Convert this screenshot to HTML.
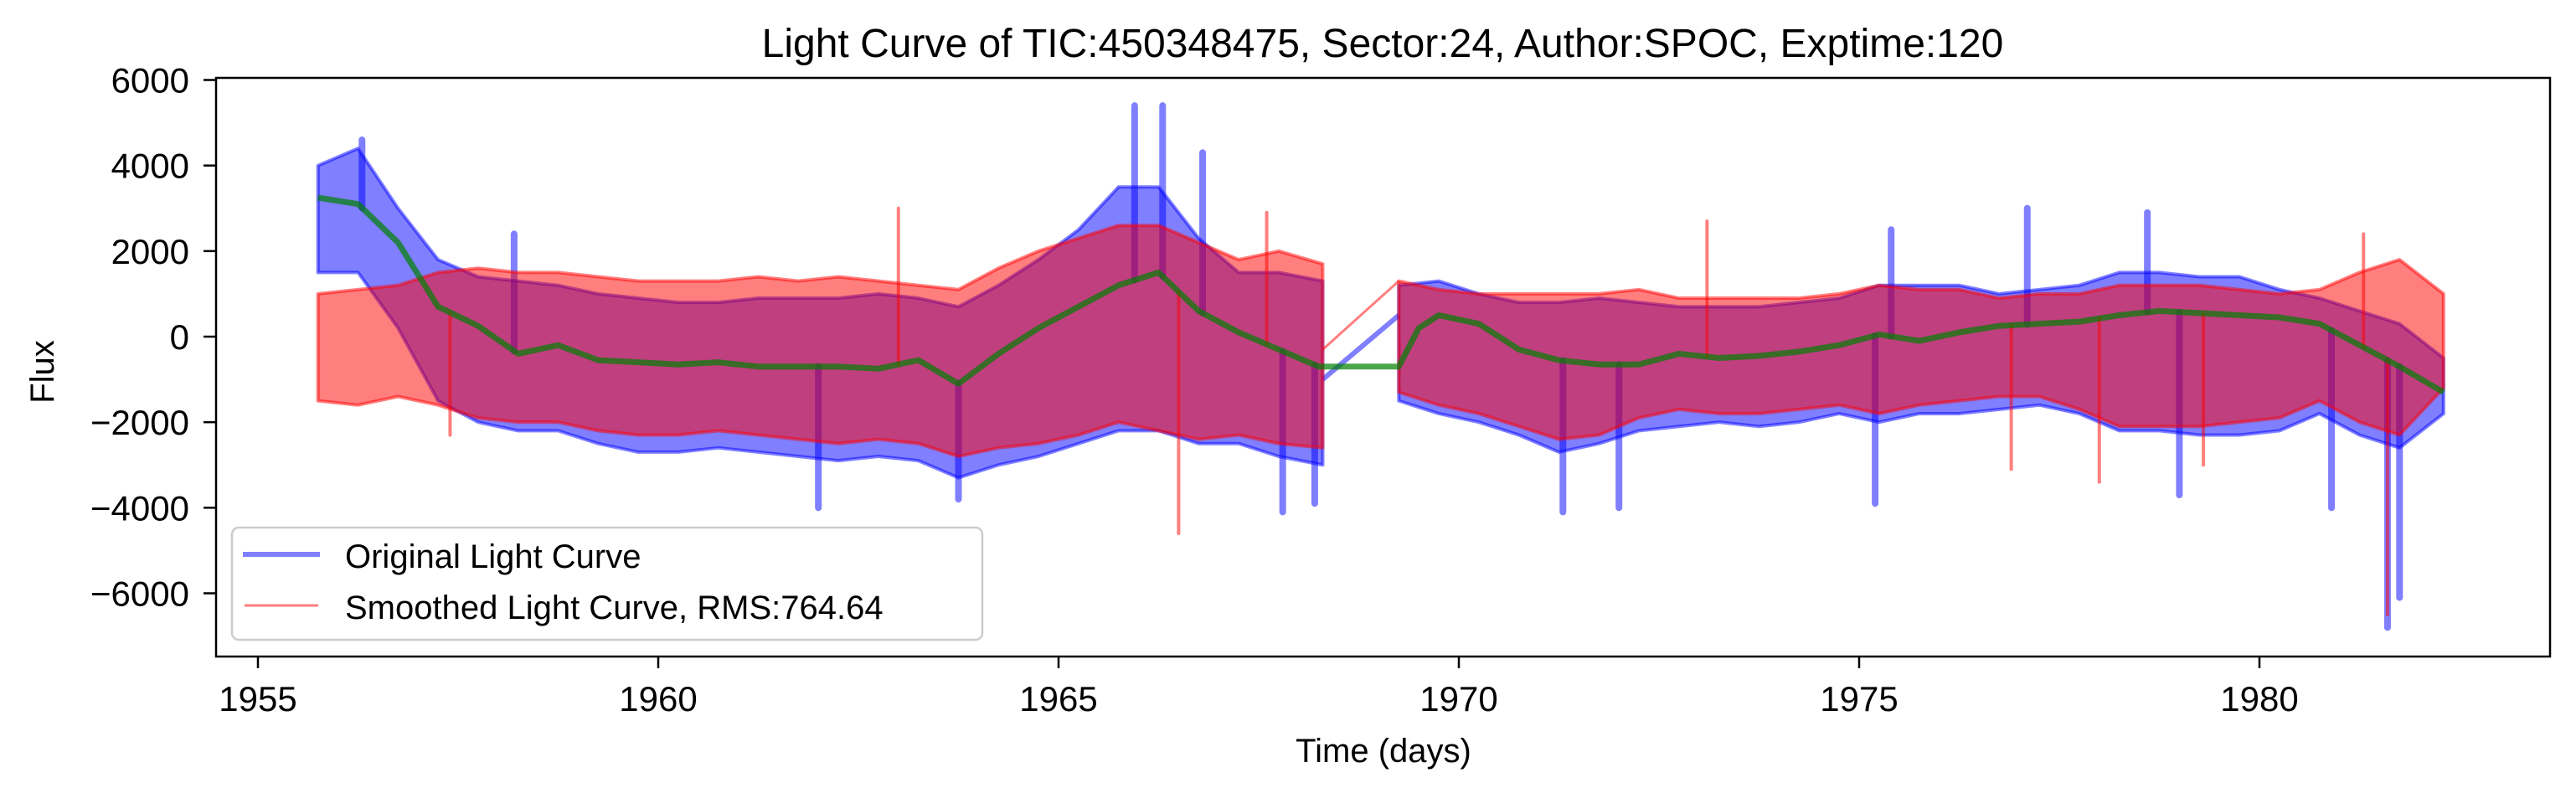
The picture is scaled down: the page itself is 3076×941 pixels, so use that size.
<!DOCTYPE html>
<html><head><meta charset="utf-8"><style>
body{margin:0;background:#fff}
svg{display:block;font-family:"Liberation Sans","DejaVu Sans",sans-serif}
</style></head><body>
<svg id="chart" width="3076" height="941" viewBox="0 0 3076 941" xmlns="http://www.w3.org/2000/svg">
<rect width="3076" height="941" fill="#fff"/>
<text x="1651" y="68" font-size="48" text-anchor="middle">Light Curve of TIC:450348475, Sector:24, Author:SPOC, Exptime:120</text>
<g id="plot"></g>
<rect x="258" y="93" width="2787" height="691" fill="none" stroke="#000" stroke-width="2.5"/>
<g id="axes"></g>
<text x="1652" y="910" font-size="40" text-anchor="middle">Time (days)</text>
<text transform="translate(64,444) rotate(-90)" font-size="40" text-anchor="middle">Flux</text>
<g>
<rect x="277" y="630" width="896" height="134" rx="8" fill="#fff" fill-opacity="0.8" stroke="#ccc" stroke-width="2.5"/>
<line x1="290" y1="662" x2="382" y2="662" stroke="#0000ff" stroke-opacity="0.5" stroke-width="6"/>
<text x="412" y="678" font-size="40">Original Light Curve</text>
<line x1="292" y1="723" x2="380" y2="723" stroke="#ff0000" stroke-opacity="0.5" stroke-width="3"/>
<text x="412" y="739" font-size="40">Smoothed Light Curve, RMS:764.64</text>
</g>
</svg>
<script>
const seg1Times=[1955.75,1956.25,1956.75,1957.25,1957.75,1958.25,1958.75,1959.25,1959.75,1960.25,1960.75,1961.25,1961.75,1962.25,1962.75,1963.25,1963.75,1964.25,1964.75,1965.25,1965.75,1966.25,1966.75,1967.25,1967.75,1968.3];
const seg2Times=[1969.25,1969.75,1970.25,1970.75,1971.25,1971.75,1972.25,1972.75,1973.25,1973.75,1974.25,1974.75,1975.25,1975.75,1976.25,1976.75,1977.25,1977.75,1978.25,1978.75,1979.25,1979.75,1980.25,1980.75,1981.25,1981.75,1982.3];
const origHi1=[4000,4400,3000,1800,1400,1300,1200,1000,900,800,800,900,900,900,1000,900,700,1200,1800,2500,3500,3500,2300,1500,1500,1300];
const origLo1=[1500,1500,200,-1500,-2000,-2200,-2200,-2500,-2700,-2700,-2600,-2700,-2800,-2900,-2800,-2900,-3300,-3000,-2800,-2500,-2200,-2200,-2500,-2500,-2800,-3000];
const origHi2=[1200,1300,1000,800,800,900,800,700,700,700,800,900,1200,1200,1200,1000,1100,1200,1500,1500,1400,1400,1100,900,600,300,-500];
const origLo2=[-1500,-1800,-2000,-2300,-2700,-2500,-2200,-2100,-2000,-2100,-2000,-1800,-2000,-1800,-1800,-1700,-1600,-1800,-2200,-2200,-2300,-2300,-2200,-1800,-2300,-2600,-1800];
const smoHi1=[1000,1100,1200,1500,1600,1500,1500,1400,1300,1300,1300,1400,1300,1400,1300,1200,1100,1600,2000,2300,2600,2600,2200,1800,2000,1700];
const smoLo1=[-1500,-1600,-1400,-1600,-1900,-2000,-2000,-2200,-2300,-2300,-2200,-2300,-2400,-2500,-2400,-2500,-2800,-2600,-2500,-2300,-2000,-2200,-2400,-2300,-2500,-2600];
const smoHi2=[1300,1100,1000,1000,1000,1000,1100,900,900,900,900,1000,1200,1100,1100,900,1000,1000,1200,1200,1200,1100,1000,1100,1500,1800,1000];
const smoLo2=[-1300,-1600,-1800,-2100,-2400,-2300,-1900,-1700,-1800,-1800,-1700,-1600,-1800,-1600,-1500,-1400,-1400,-1700,-2100,-2100,-2100,-2000,-1900,-1500,-2000,-2300,-1200];
const trendTimes=[1955.75,1956.25,1956.75,1957.25,1957.75,1958.25,1958.75,1959.25,1959.75,1960.25,1960.75,1961.25,1961.75,1962.25,1962.75,1963.25,1963.75,1964.25,1964.75,1965.25,1965.75,1966.25,1966.75,1967.25,1967.75,1968.25,1969.25,1969.5,1969.75,1970.25,1970.75,1971.25,1971.75,1972.25,1972.75,1973.25,1973.75,1974.25,1974.75,1975.25,1975.75,1976.25,1976.75,1977.25,1977.75,1978.25,1978.75,1979.25,1979.75,1980.25,1980.75,1981.25,1981.75,1982.3];
const trendVals=[3250,3100,2200,700,250,-400,-200,-550,-600,-650,-600,-700,-700,-700,-750,-550,-1100,-400,200,700,1200,1500,600,100,-300,-700,-700,200,500,300,-300,-550,-650,-650,-400,-500,-450,-350,-200,50,-100,100,250,300,350,500,600,550,500,450,300,-200,-700,-1300];
const blueSpikeTimes=[1956.3,1958.2,1962.0,1963.75,1965.95,1966.3,1966.8,1967.8,1968.2,1971.3,1972.0,1975.2,1975.4,1977.1,1978.6,1979.0,1980.9,1981.6,1981.75];
const blueSpikeVals=[4600,2400,-4000,-3800,5400,5400,4300,-4100,-3900,-4100,-4000,-3900,2500,3000,2900,-3700,-4000,-6800,-6100];
const redSpikeTimes=[1957.4,1963.0,1966.5,1967.6,1973.1,1976.9,1978.0,1979.3,1981.3,1981.6];
const redSpikeVals=[-2300,3000,-4600,2900,2700,-3100,-3400,-3000,2400,-6500];
const xTicks=[1955,1960,1965,1970,1975,1980];
const xTickLabels=["1955","1960","1965","1970","1975","1980"];
const yTicks=[6000,4000,2000,0,-2000,-4000,-6000];
const yTickLabels=["6000","4000","2000","0","\u22122000","\u22124000","\u22126000"];

const NS="http://www.w3.org/2000/svg";
function X(t){return 308+(t-1955)*95.6;}
function Y(v){return 402-v*0.05108;}
const plot=document.getElementById('plot'),axes=document.getElementById('axes');
function mk(tag,parent){const e=document.createElementNS(NS,tag);parent.appendChild(e);return e;}
function band(ts,hi,lo,fill,name){
  const p=mk('polygon',plot);
  const pts=ts.map((t,i)=>X(t)+','+Y(hi[i])).concat(ts.map((t,i)=>X(t)+','+Y(lo[i])).reverse());
  p.setAttribute('points',pts.join(' '));
  p.setAttribute('fill',fill);p.setAttribute('stroke',fill);p.setAttribute('stroke-width','4');
  p.setAttribute('stroke-linejoin','round');
  
  
}
function trendAt(t){for(let i=1;i<trendTimes.length;i++){if(t<=trendTimes[i]){const a=trendTimes[i-1],b=trendTimes[i];return trendVals[i-1]+(trendVals[i]-trendVals[i-1])*(t-a)/(b-a);}}return trendVals[trendVals.length-1];}
function spikes(ts,vs,col,w,name){
  ts.forEach((t,i)=>{
    const l=mk('line',plot);
    l.setAttribute('x1',X(t));l.setAttribute('x2',X(t));
    l.setAttribute('y1',Y(vs[i]));l.setAttribute('y2',Y(trendAt(t)));
    l.setAttribute('stroke',col);l.setAttribute('stroke-width',w);l.setAttribute('stroke-linecap','round');
    
    
  });
}
band(seg1Times,origHi1,origLo1,'rgba(0,0,255,0.5)','original-band-segment-1');
band(seg2Times,origHi2,origLo2,'rgba(0,0,255,0.5)','original-band-segment-2');
spikes(blueSpikeTimes,blueSpikeVals,'rgba(0,0,255,0.5)',8,'original-spike');
const gb=mk('line',plot);
gb.setAttribute('x1',X(seg1Times[seg1Times.length-1]));gb.setAttribute('y1',Y(-1000));
gb.setAttribute('x2',X(seg2Times[0]));gb.setAttribute('y2',Y(500));
gb.setAttribute('stroke','rgba(0,0,255,0.5)');gb.setAttribute('stroke-width','6');


band(seg1Times,smoHi1,smoLo1,'rgba(255,0,0,0.5)','smoothed-band-segment-1');
band(seg2Times,smoHi2,smoLo2,'rgba(255,0,0,0.5)','smoothed-band-segment-2');
spikes(redSpikeTimes,redSpikeVals,'rgba(255,0,0,0.5)',4,'smoothed-spike');
const gr=mk('line',plot);
gr.setAttribute('x1',X(seg1Times[seg1Times.length-1]));gr.setAttribute('y1',Y(-300));
gr.setAttribute('x2',X(seg2Times[0]));gr.setAttribute('y2',Y(1300));
gr.setAttribute('stroke','rgba(255,0,0,0.5)');gr.setAttribute('stroke-width','3');


const tl=mk('polyline',plot);
tl.setAttribute('points',trendTimes.map((t,i)=>X(t)+','+Y(trendVals[i])).join(' '));
tl.setAttribute('fill','none');tl.setAttribute('stroke','rgba(0,128,0,0.7)');tl.setAttribute('stroke-width','7');
tl.setAttribute('stroke-linejoin','round');


xTicks.forEach((t,i)=>{
  const l=mk('line',axes);l.setAttribute('x1',X(t));l.setAttribute('x2',X(t));l.setAttribute('y1',784);l.setAttribute('y2',798);
  l.setAttribute('stroke','#000');l.setAttribute('stroke-width','2.5');
  
  
  const tx=mk('text',axes);tx.setAttribute('x',X(t));tx.setAttribute('y',849);tx.setAttribute('font-size','42');tx.setAttribute('text-anchor','middle');
  tx.textContent=xTickLabels[i];
  
  
});
yTicks.forEach((v,i)=>{
  const l=mk('line',axes);l.setAttribute('x1',243);l.setAttribute('x2',258);l.setAttribute('y1',Y(v));l.setAttribute('y2',Y(v));
  l.setAttribute('stroke','#000');l.setAttribute('stroke-width','2.5');
  
  
  const tx=mk('text',axes);tx.setAttribute('x',226);tx.setAttribute('y',Y(v)+15);tx.setAttribute('font-size','42');tx.setAttribute('text-anchor','end');
  tx.textContent=yTickLabels[i];
  
  
});
</script>
</body></html>
